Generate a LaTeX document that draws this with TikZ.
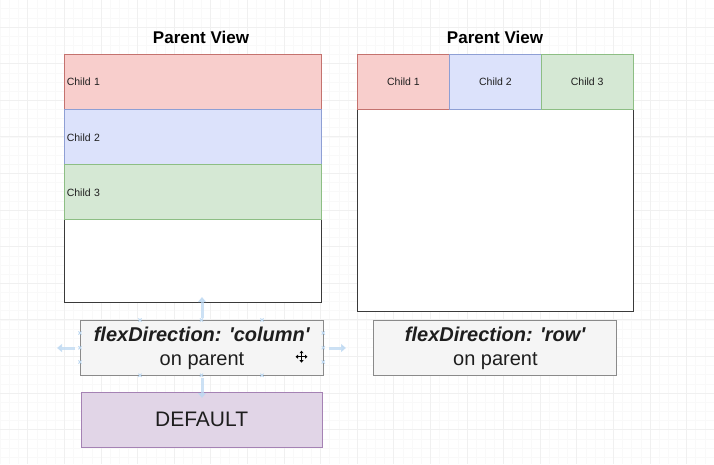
\documentclass[tikz,border=0pt]{standalone}
\usepackage{fontspec}
\setmainfont{Liberation Sans}
\usetikzlibrary{arrows.meta,calc}

\definecolor{gridminor}{HTML}{F9F9F9}
\definecolor{gridmajor}{HTML}{F0F0F0}
\definecolor{redfill}{HTML}{F8CECC}
\definecolor{redline}{HTML}{C4726E}
\definecolor{bluefill}{HTML}{DCE2FB}
\definecolor{blueline}{HTML}{8E9FD4}
\definecolor{greenfill}{HTML}{D5E8D4}
\definecolor{greenline}{HTML}{8DBE84}
\definecolor{purplefill}{HTML}{E1D5E7}
\definecolor{purpleline}{HTML}{A582B4}
\definecolor{notefill}{HTML}{F5F5F5}
\definecolor{noteline}{HTML}{8A8A8A}
\definecolor{parentline}{HTML}{3A3A3A}
\definecolor{inktext}{HTML}{1E1E1E}
\definecolor{hintblue}{HTML}{BCD8F2}

\tikzset{
  parentbox/.style={draw=parentline, fill=white, line width=1.3pt, inner sep=0pt,
    anchor=north west},
  childbox/.style={line width=1pt, inner sep=0pt, anchor=north west,
    text=inktext, font=\fontsize{10.5}{12}\selectfont},
  childrow/.style={childbox, minimum width=92, minimum height=55, align=center},
  childcol/.style={childbox, minimum width=257, minimum height=55,
    text width=252.5, inner xsep=2.25pt, align=left},
  title/.style={font=\bfseries\fontsize{17}{20}\selectfont, text=black},
  notebox/.style={draw=noteline, fill=notefill, line width=1pt, inner sep=0pt,
    anchor=north west, minimum width=243, minimum height=55, align=center,
    text=inktext, font=\fontsize{20}{24}\selectfont},
  hintarrow/.style={draw=hintblue, line width=3pt,
    -{Triangle[width=8pt,length=5pt]}, opacity=0.75},
  handle/.style={draw=hintblue, line width=0.8pt},
}

\begin{document}
\begin{tikzpicture}[x=1pt,y=-1pt]
  % canvas and editor grid
  \fill[white] (0,0) rectangle (714,464);
  \useasboundingbox (0,0) rectangle (714,464);
  \foreach \i in {-7,...,71} {
    \draw[gridminor, line width=0.5pt] ({64.3+9.15*\i},0) -- ({64.3+9.15*\i},464);
  }
  \foreach \i in {-3,...,48} {
    \draw[gridminor, line width=0.5pt] (0,{27+9.15*\i}) -- (714,{27+9.15*\i});
  }
  \foreach \i in {-2,...,18} {
    \draw[gridmajor, line width=0.8pt] ({64.3+36.6*\i},0) -- ({64.3+36.6*\i},464);
  }
  \foreach \i in {-1,...,12} {
    \draw[gridmajor, line width=0.8pt] (0,{27+36.6*\i}) -- (714,{27+36.6*\i});
  }

  % column layout
  \node[title] (titleL) at (201,37) {Parent View};
  \node[parentbox, minimum width=257, minimum height=247.5] (parentL) at (64,54) {};
  \node[childcol, fill=redfill, draw=redline]     (colA) at (64,54)  {Child 1};
  \node[childcol, fill=bluefill, draw=blueline]   (colB) at (64,109.3) {Child 2};
  \node[childcol, fill=greenfill, draw=greenline] (colC) at (64,164.3) {Child 3};

  % row layout
  \node[title] (titleR) at (495,37) {Parent View};
  \node[parentbox, minimum width=275.5, minimum height=257] (parentR) at (357,54) {};
  \node[childrow, fill=redfill, draw=redline]     (rowA) at (357,54)   {Child 1};
  \node[childrow, fill=bluefill, draw=blueline]   (rowB) at (449,54)   {Child 2};
  \node[childrow, fill=greenfill, draw=greenline] (rowC) at (540.7,54) {Child 3};

  % captions
  \node[notebox] (noteCol) at (80,320)
    {\textbf{\textit{flexDirection: \textquotesingle column\textquotesingle}}\\on parent};
  \node[notebox] (noteRow) at (373.4,320)
    {\textbf{\textit{flexDirection: \textquotesingle row\textquotesingle}}\\on parent};
  \node[notebox, draw=purpleline, fill=purplefill, minimum width=241,
        font=\fontsize{21}{25}\selectfont] (default) at (80.6,391.7) {DEFAULT};

  % selection hints around the selected caption
  \coordinate (hUp)    at ($(noteCol.north)+(0,-2)$);
  \coordinate (hUpTip) at ($(noteCol.north)+(0,-23)$);
  \coordinate (hDn)    at ($(noteCol.south)+(0,2)$);
  \coordinate (hDnTip) at ($(noteCol.south)+(0,22)$);
  \coordinate (hLf)    at ($(noteCol.west)+(-5,0)$);
  \coordinate (hLfTip) at ($(noteCol.west)+(-23,0)$);
  \coordinate (hRt)    at ($(noteCol.east)+(5,0)$);
  \coordinate (hRtTip) at ($(noteCol.east)+(22,0)$);
  \draw[hintarrow] (hUp) -- (hUpTip);
  \draw[hintarrow] (hDn) -- (hDnTip);
  \draw[hintarrow] (hLf) -- (hLfTip);
  \draw[hintarrow] (hRt) -- (hRtTip);

  \foreach \hx/\hy in {140/320, 201.5/320, 262/320,
                       140/375.3, 201.5/375.3, 262/375.3,
                       80/333, 80/347.7, 80/362,
                       323.3/333, 323.3/347.7, 323.3/362} {
    \draw[handle] ({\hx-1.6},{\hy-1.6}) -- ({\hx+1.6},{\hy+1.6})
                  ({\hx-1.6},{\hy+1.6}) -- ({\hx+1.6},{\hy-1.6});
  }

  % move cursor
  \coordinate (cur) at (301.5,356.7);
  \draw[black, line width=1.1pt] ($(cur)+(-4.5,0)$) -- ($(cur)+(4.5,0)$)
                                 ($(cur)+(0,-4.5)$) -- ($(cur)+(0,4.5)$);
  \fill[black] ($(cur)+(-6,0)$) -- ($(cur)+(-3.5,-2)$) -- ($(cur)+(-3.5,2)$) -- cycle;
  \fill[black] ($(cur)+(6,0)$) -- ($(cur)+(3.5,-2)$) -- ($(cur)+(3.5,2)$) -- cycle;
  \fill[black] ($(cur)+(0,-6)$) -- ($(cur)+(-2,-3.5)$) -- ($(cur)+(2,-3.5)$) -- cycle;
  \fill[black] ($(cur)+(0,6)$) -- ($(cur)+(-2,3.5)$) -- ($(cur)+(2,3.5)$) -- cycle;
\end{tikzpicture}
\end{document}
